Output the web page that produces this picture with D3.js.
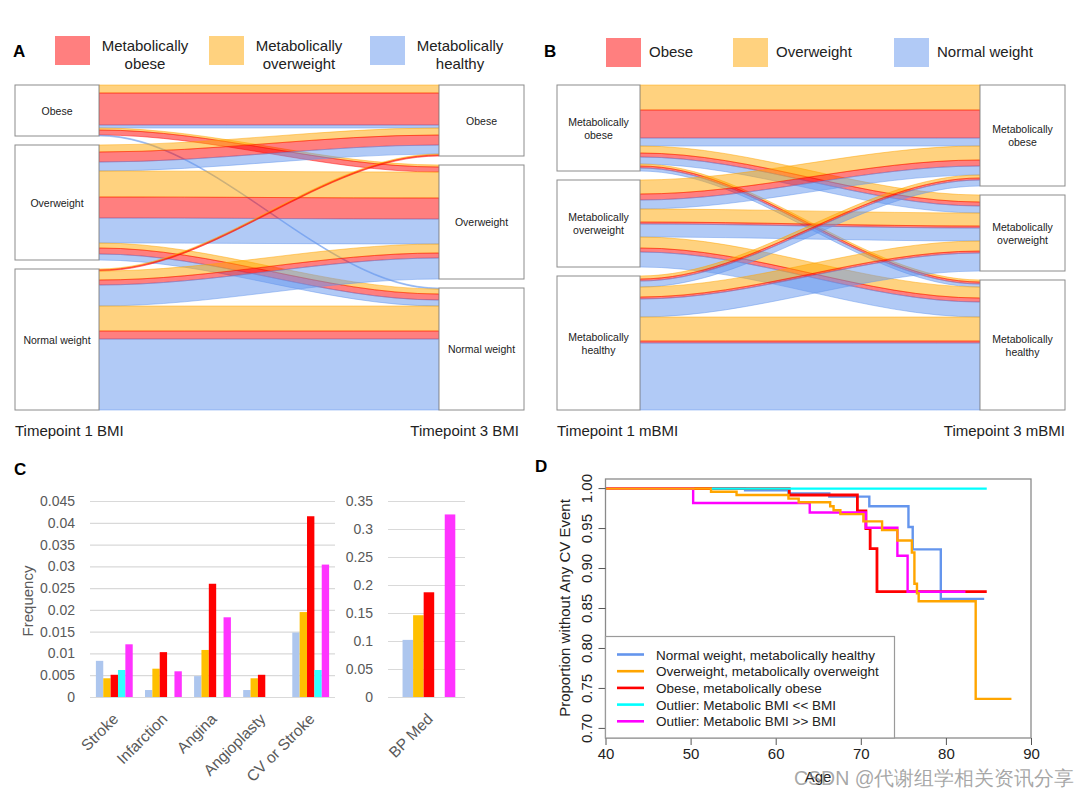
<!DOCTYPE html>
<html>
<head>
<meta charset="utf-8">
<script src="https://cdn.jsdelivr.net/npm/d3@7"></script>
<style>
  body { margin: 0; background: #fff; }
  svg { display: block; }
  text { font-family: "Liberation Sans", Arial, sans-serif; }
</style>
</head>
<body>
<div id="chart"></div>
<script>
// ---------------- data ----------------
// panels A/B: ribbons stacked as [overweight, obese, normal/healthy] colour classes
// flows[source][target] = [orange, red, blue] (share of cohort, px-ish units)
const bmiNodes = [["Obese"], ["Overweight"], ["Normal weight"]];
const flowsA = [
  [[8, 32, 3], [2, 5, 0], [0, 0, 1]],
  [[7, 10, 9], [26, 21, 25], [5, 6, 6]],
  [[1, 1, 0], [9, 5, 21], [25, 8, 71]]
];
const mbmiNodes = [["Metabolically", "obese"], ["Metabolically", "overweight"], ["Metabolically", "healthy"]];
const flowsB = [
  [[25, 28, 8], [7, 4, 7], [2, 2, 3]],
  [[14, 6, 9], [13, 2, 13], [11, 4, 15]],
  [[3, 2, 6], [10, 2, 18], [24, 2, 67]]
];
const legendA = [["Metabolically", "obese"], ["Metabolically", "overweight"], ["Metabolically", "healthy"]];
const legendB = ["Obese", "Overweight", "Normal weight"];

// panel C
const groups = [
  "Normal weight, metabolically healthy",
  "Overweight, metabolically overweight",
  "Obese, metabolically obese",
  "Outlier: Metabolic BMI << BMI",
  "Outlier: Metabolic BMI >> BMI"
];
const eventCats = ["Stroke", "Infarction", "Angina", "Angioplasty", "CV or Stroke"];
const eventFreq = [
  [0.0083, 0.0043, 0.0051, 0.0062, 0.0121],
  [0.0016, 0.0065, 0.0103, 0, 0.0059],
  [0.0048, 0.0108, 0.0260, 0, 0.0183],
  [0.0016, 0.0043, 0.0051, 0, 0],
  [0.0148, 0.0195, 0.0415, 0.0062, 0.0304]
];
const freqTicks1 = [0, 0.005, 0.01, 0.015, 0.02, 0.025, 0.03, 0.035, 0.04, 0.045];
const bpCats = ["BP Med"];
const bpFreq = [[0.102, 0.146, 0.187, 0, 0.326]];
const freqTicks2 = [0, 0.05, 0.1, 0.15, 0.2, 0.25, 0.3, 0.35];

// panel D: Kaplan-Meier steps [age, proportion]
const kmNormal = [[40, 1], [56.4, 0.998], [61.5, 0.994], [66.3, 0.990], [71.0, 0.978], [75.6, 0.952], [76.1, 0.924], [79.4, 0.862], [84.5, 0.862]];
const kmOver = [[40, 1], [52.4, 0.996], [55.4, 0.992], [61.5, 0.9875], [62.7, 0.983], [66.4, 0.978], [66.8, 0.973], [67.6, 0.968], [70.3, 0.959], [72.5, 0.948], [74.3, 0.935], [76.0, 0.920], [76.3, 0.881], [76.6, 0.869], [76.8, 0.859], [83.5, 0.737], [87.7, 0.737]];
const kmObese = [[40, 1], [61.6, 0.992], [69.6, 0.972], [70.6, 0.950], [71.1, 0.925], [71.9, 0.871], [84.8, 0.871]];
const kmLow = [[52.5, 1], [84.8, 1]];
const kmHigh = [[40, 1], [50.3, 0.982], [64.0, 0.970], [70.6, 0.951], [74.3, 0.916], [75.5, 0.871], [82.3, 0.871]];
const ageTicks = [40, 50, 60, 70, 80, 90];
const survTicks = [0.70, 0.75, 0.80, 0.85, 0.90, 0.95, 1.00];

// ---------------- drawing ----------------
const flowColor = ["#ffa500", "#ff0000", "#6495ed"];
const barColor = ["#adc6ee", "#ffc000", "#ff0000", "#33ffff", "#ff33ff"];
const kmColor = ["#6495ed", "#ffa500", "#ff0000", "#00ffff", "#ff00ff"];

const svg = d3.select("#chart").append("svg").attr("width", 1080).attr("height", 794);

function panelLetter(x, y, t) {
  svg.append("text").attr("x", x).attr("y", y).attr("font-size", 17).attr("font-weight", "bold").text(t);
}

function ribbonPath(xa, xb, ya, yb, hh) {
  const p = d3.path(), c = (xb - xa) * 0.34;
  p.moveTo(xa, ya);
  p.bezierCurveTo(xa + c, ya, xb - c, yb, xb, yb);
  p.lineTo(xb, yb + hh);
  p.bezierCurveTo(xb - c, yb + hh, xa + c, ya + hh, xa, ya + hh);
  p.closePath();
  return p.toString();
}

function alluvial(o) {
  const g = svg.append("g");
  const n = o.nodes.length;
  const leftVal = o.flows.map(row => d3.sum(row, c => d3.sum(c)));
  const rightVal = o.nodes.map((_, j) => d3.sum(o.flows, row => d3.sum(row[j])));
  const total = d3.sum(leftVal);
  const h = d3.scaleLinear().domain([0, total]).range([0, o.bottom - o.top - o.gap * (n - 1)]);

  const leftTop = [], rightTop = [];
  let yl = o.top, yr = o.top;
  for (let i = 0; i < n; i++) {
    leftTop.push(yl); yl += h(leftVal[i]) + o.gap;
    rightTop.push(yr); yr += h(rightVal[i]) + o.gap;
  }
  // left stacking: by target, then colour class
  const rib = {};
  const lc = leftTop.slice(), rc = rightTop.slice();
  for (let i = 0; i < n; i++) for (let j = 0; j < n; j++) for (let k = 0; k < 3; k++) {
    const v = o.flows[i][j][k];
    rib[i + "-" + j + "-" + k] = { k, hh: h(v), ya: lc[i], v };
    lc[i] += h(v);
  }
  // right stacking: by source, then colour class
  for (let j = 0; j < n; j++) for (let i = 0; i < n; i++) for (let k = 0; k < 3; k++) {
    const r = rib[i + "-" + j + "-" + k];
    r.yb = rc[j];
    rc[j] += r.hh;
  }
  const xa = o.x0 + o.w0, xb = o.x1;
  const ribbons = Object.values(rib).filter(r => r.v > 0);
  g.selectAll("path.rib").data(ribbons).join("path")
    .attr("d", r => ribbonPath(xa, xb, r.ya, r.yb, r.hh))
    .attr("fill", r => flowColor[r.k])
    .attr("fill-opacity", 0.5)
    .attr("stroke", r => flowColor[r.k])
    .attr("stroke-opacity", 0.6)
    .attr("stroke-width", 0.8);

  const boxes = [];
  for (let i = 0; i < n; i++) {
    boxes.push({ x: o.x0, w: o.w0, y: leftTop[i], hh: h(leftVal[i]), lines: o.nodes[i] });
    boxes.push({ x: o.x1, w: o.w1, y: rightTop[i], hh: h(rightVal[i]), lines: o.nodes[i] });
  }
  const bg = g.selectAll("g.box").data(boxes).join("g");
  bg.append("rect")
    .attr("x", d => d.x).attr("y", d => d.y).attr("width", d => d.w).attr("height", d => d.hh)
    .attr("fill", "#fff").attr("stroke", "#8c8c8c").attr("stroke-width", 1);
  bg.append("text")
    .attr("text-anchor", "middle").attr("font-size", 10.5).attr("fill", "#222")
    .selectAll("tspan").data(d => d.lines.map((l, li) => ({ l, li, d }))).join("tspan")
    .attr("x", t => t.d.x + t.d.w / 2)
    .attr("y", t => t.d.y + t.d.hh / 2 + 4 + (t.li - (t.d.lines.length - 1) / 2) * 13)
    .text(t => t.l);
}

// ----- panel A -----
panelLetter(13, 57, "A");
const legAColor = [1, 0, 2];
legendA.forEach((lines, i) => {
  const x = [55, 209, 370][i];
  svg.append("rect").attr("x", x).attr("y", 36).attr("width", 35).attr("height", 29)
    .attr("fill", flowColor[legAColor[i]]).attr("fill-opacity", 0.5);
  const t = svg.append("text").attr("text-anchor", "middle").attr("font-size", 15).attr("fill", "#222");
  lines.forEach((l, li) => t.append("tspan").attr("x", x + 35 + 55).attr("y", 51 + li * 18).text(l));
});
alluvial({ nodes: bmiNodes, flows: flowsA, x0: 15, w0: 84, x1: 439, w1: 85, top: 85, bottom: 410, gap: 9 });
svg.append("text").attr("x", 15).attr("y", 436).attr("font-size", 15).attr("fill", "#222").text("Timepoint 1 BMI");
svg.append("text").attr("x", 519).attr("y", 436).attr("font-size", 15).attr("fill", "#222").attr("text-anchor", "end").text("Timepoint 3 BMI");

// ----- panel B -----
panelLetter(544, 57, "B");
legendB.forEach((l, i) => {
  const x = [606, 733, 894][i];
  svg.append("rect").attr("x", x).attr("y", 38).attr("width", 35).attr("height", 29)
    .attr("fill", flowColor[legAColor[i]]).attr("fill-opacity", 0.5);
  svg.append("text").attr("x", x + 43).attr("y", 57).attr("font-size", 15).attr("fill", "#222").text(l);
});
alluvial({ nodes: mbmiNodes, flows: flowsB, x0: 557, w0: 83, x1: 980, w1: 85, top: 85, bottom: 410, gap: 9 });
svg.append("text").attr("x", 557).attr("y", 436).attr("font-size", 15).attr("fill", "#222").text("Timepoint 1 mBMI");
svg.append("text").attr("x", 1065).attr("y", 436).attr("font-size", 15).attr("fill", "#222").attr("text-anchor", "end").text("Timepoint 3 mBMI");

// ----- panel C -----
panelLetter(14, 475, "C");
const cFont = "Lato, 'Open Sans', sans-serif";
const yC1 = d3.scaleLinear().domain([0, 0.045]).range([697, 501]);
const yC2 = d3.scaleLinear().domain([0, 0.35]).range([697, 501]);
const xC1 = d3.scaleBand().domain(eventCats).range([90, 335]).paddingInner(0.25).paddingOuter(0.12);
const xC2 = d3.scaleBand().domain(bpCats).range([388, 465]).paddingOuter(0.23).align(0.6);
const fmt = d3.format("~g");

function barChart(xs, ys, ticks, cats, vals, x0, x1) {
  const ax = svg.append("g").attr("transform", `translate(${x0},0)`)
    .call(d3.axisLeft(ys).tickValues(ticks).tickSize(-(x1 - x0)).tickPadding(15).tickFormat(fmt));
  ax.select(".domain").remove();
  ax.selectAll("line").attr("stroke", "#d9d9d9").attr("stroke-width", 1.2);
  ax.selectAll("text").attr("font-family", cFont).attr("font-size", 14).attr("fill", "#595959");
  const sub = d3.scaleBand().domain(d3.range(groups.length)).range([0, xs.bandwidth()]);
  cats.forEach((c, ci) => {
    svg.append("g").selectAll("rect").data(vals[ci]).join("rect")
      .attr("x", (v, gi) => xs(c) + sub(gi))
      .attr("y", v => ys(v))
      .attr("width", sub.bandwidth())
      .attr("height", v => ys(0) - ys(v))
      .attr("fill", (v, gi) => barColor[gi]);
  });
  svg.append("g").selectAll("text").data(cats).join("text")
    .attr("transform", d => `translate(${xs(d) + xs.bandwidth() / 2 + 5},720) rotate(-45)`)
    .attr("text-anchor", "end").attr("font-family", cFont).attr("font-size", 15.5).attr("fill", "#595959")
    .text(d => d);
}
barChart(xC1, yC1, freqTicks1, eventCats, eventFreq, 90, 335);
barChart(xC2, yC2, freqTicks2, bpCats, bpFreq, 388, 465);
svg.append("text").attr("transform", "translate(33,601) rotate(-90)").attr("text-anchor", "middle")
  .attr("font-family", cFont).attr("font-size", 15).attr("fill", "#595959").text("Frequency");

// ----- panel D -----
panelLetter(535, 472, "D");
const xD = d3.scaleLinear().domain([40, 90]).range([605.5, 1031]);
const yD = d3.scaleLinear().domain([0.688, 1.012]).range([738, 479]);
const km = [kmNormal, kmOver, kmObese, kmLow, kmHigh];
const line = d3.line().x(d => xD(d[0])).y(d => yD(d[1])).curve(d3.curveStepAfter);
[0, 2, 4, 1, 3].forEach(i => {
  svg.append("path").datum(km[i]).attr("d", line).attr("fill", "none")
    .attr("stroke", kmColor[i]).attr("stroke-width", i === 2 ? 2.8 : 2.4);
});
svg.append("rect").attr("x", xD(40)).attr("y", 479).attr("width", xD(90) - xD(40)).attr("height", 259)
  .attr("fill", "none").attr("stroke", "#8a8a8a").attr("stroke-width", 1.3);

const xAx = svg.append("g").attr("transform", "translate(0,738)")
  .call(d3.axisBottom(xD).tickValues(ageTicks).tickSize(7).tickPadding(3));
xAx.select(".domain").remove();
xAx.selectAll("line").attr("stroke", "#555");
xAx.selectAll("text").attr("font-family", "Liberation Sans, Arial, sans-serif").attr("font-size", 15).attr("fill", "#222");

const yAx = svg.append("g");
yAx.selectAll("line").data(survTicks).join("line")
  .attr("x1", xD(40) - 7).attr("x2", xD(40)).attr("y1", d => yD(d)).attr("y2", d => yD(d))
  .attr("stroke", "#555");
yAx.selectAll("text").data(survTicks).join("text")
  .attr("transform", d => `translate(592,${yD(d)}) rotate(-90)`)
  .attr("text-anchor", "middle").attr("font-size", 15).attr("fill", "#222")
  .text(d => d3.format(".2f")(d));
svg.append("text").attr("transform", "translate(570,608) rotate(-90)").attr("text-anchor", "middle")
  .attr("font-size", 15).attr("fill", "#222").text("Proportion without Any CV Event");
// axis title sits under the watermark, as in the source figure
svg.append("text").attr("x", 818).attr("y", 782).attr("text-anchor", "middle")
  .attr("font-size", 15).attr("fill", "#222").text("Age");

// legend
svg.append("rect").attr("x", xD(40)).attr("y", 636.5).attr("width", 289).attr("height", 738 - 636.5)
  .attr("fill", "#fff").attr("stroke", "#9a9a9a").attr("stroke-width", 1.2);
groups.forEach((gname, i) => {
  const y = 654.5 + i * 16.7;
  svg.append("line").attr("x1", 617).attr("x2", 644).attr("y1", y).attr("y2", y)
    .attr("stroke", kmColor[i]).attr("stroke-width", 2.6);
  svg.append("text").attr("x", 656).attr("y", y + 5).attr("font-size", 13.5).attr("fill", "#222").text(gname);
});

// watermark
svg.append("text").attr("x", 794).attr("y", 785).attr("font-size", 19.5)
  .attr("font-family", "'Noto Sans CJK SC', 'Liberation Sans', sans-serif")
  .attr("fill", "#8a8a8a").attr("fill-opacity", 0.75).text("CSDN @代谢组学相关资讯分享");
</script>
</body>
</html>
